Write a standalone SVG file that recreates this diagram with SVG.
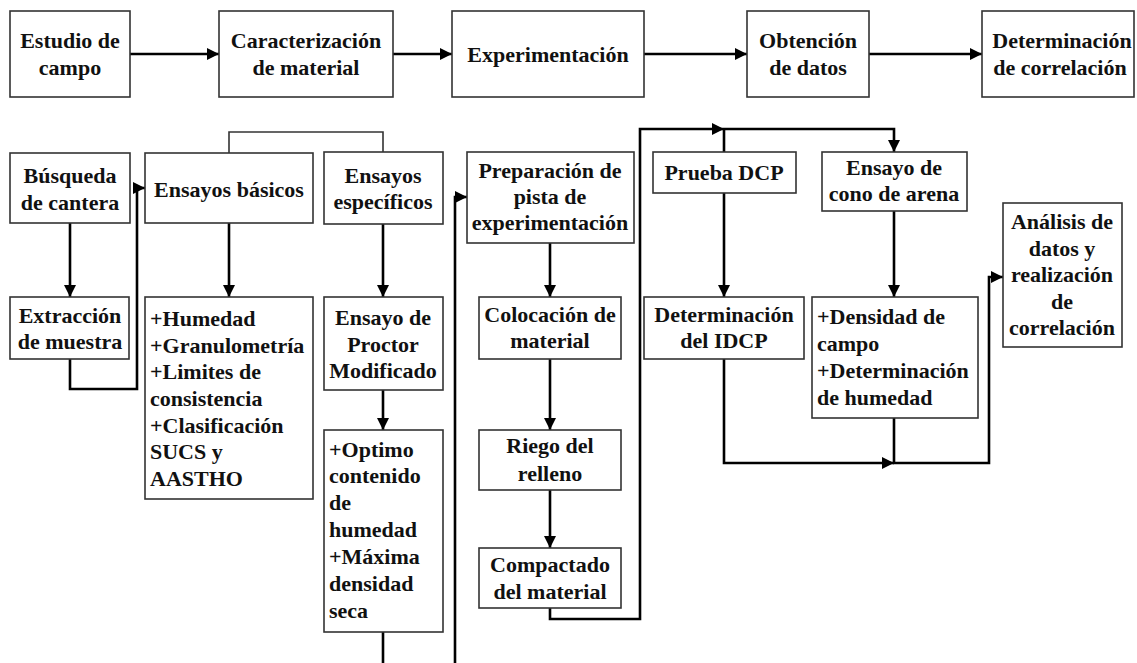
<svg xmlns="http://www.w3.org/2000/svg" width="1137" height="663" viewBox="0 0 1137 663">
<style>
.box{fill:#fff;stroke:#333;stroke-width:1.6}
.t{font-family:"Liberation Serif","Times New Roman",serif;font-weight:bold;font-size:22px;fill:#111}
.c{text-anchor:middle}
.con{fill:none;stroke:#000;stroke-width:2.6}
.thin{fill:none;stroke:#333;stroke-width:1.6}
</style>
<defs>
<marker id="ah" viewBox="0 0 12 12" refX="12" refY="6" markerWidth="12" markerHeight="12" markerUnits="userSpaceOnUse" orient="auto">
<path d="M0,0 L12,6 L0,12 z" fill="#000"/>
</marker>
</defs>
<rect width="1137" height="663" fill="#fff"/>
<g id="connectors">
<path class="con" d="M130,54 H219" marker-end="url(#ah)"/>
<path class="con" d="M393,54 H452" marker-end="url(#ah)"/>
<path class="con" d="M644,54 H747" marker-end="url(#ah)"/>
<path class="con" d="M869,54 H982" marker-end="url(#ah)"/>
<path class="thin" d="M229,153 V132 H383 V152"/>
<path class="con" d="M70,223 V297" marker-end="url(#ah)"/>
<path class="con" d="M229,223 V297" marker-end="url(#ah)"/>
<path class="con" d="M383,224 V297" marker-end="url(#ah)"/>
<path class="con" d="M70,359 V389 H137 V188 H145" marker-end="url(#ah)"/>
<path class="con" d="M383,390 V430" marker-end="url(#ah)"/>
<path class="con" d="M383,632 V663"/>
<path class="con" d="M455,663 V197 H467" marker-end="url(#ah)"/>
<path class="con" d="M550,243 V297" marker-end="url(#ah)"/>
<path class="con" d="M550,359 V430" marker-end="url(#ah)"/>
<path class="con" d="M550,490 V548" marker-end="url(#ah)"/>
<path class="con" d="M550,608 V619 H640 V129 H724" marker-end="url(#ah)"/>
<path class="con" d="M724,129 H894 V152" marker-end="url(#ah)"/>
<path class="con" d="M724,129 V152"/>
<path class="con" d="M724,193 V297" marker-end="url(#ah)"/>
<path class="con" d="M894,211 V297" marker-end="url(#ah)"/>
<path class="con" d="M724,359 V463 H894" marker-end="url(#ah)"/>
<path class="con" d="M894,418 V463 H989 V277 H1003" marker-end="url(#ah)"/>
</g>
<g id="estudio"><rect class="box" x="10" y="11" width="120" height="86"/><text class="t c" x="70" y="48">Estudio de</text><text class="t c" x="70" y="75">campo</text></g>
<g id="caracterizacion"><rect class="box" x="219" y="11" width="174" height="86"/><text class="t c" x="306" y="48">Caracterización</text><text class="t c" x="306" y="75">de material</text></g>
<g id="experimentacion"><rect class="box" x="452" y="11" width="192" height="86"/><text class="t c" x="548" y="62">Experimentación</text></g>
<g id="obtencion"><rect class="box" x="747" y="11" width="122" height="86"/><text class="t c" x="808" y="48">Obtención</text><text class="t c" x="808" y="75">de datos</text></g>
<g id="determinacion-correlacion"><rect class="box" x="982" y="11" width="152" height="86"/><text class="t c" x="1062" y="48">Determinación</text><text class="t c" x="1060" y="75">de correlación</text></g>
<g id="busqueda"><rect class="box" x="10" y="153" width="120" height="70"/><text class="t c" x="70" y="183">Búsqueda</text><text class="t c" x="70" y="210">de cantera</text></g>
<g id="ensayos-basicos"><rect class="box" x="145" y="153" width="168" height="70"/><text class="t c" x="229" y="197">Ensayos básicos</text></g>
<g id="ensayos-especificos"><rect class="box" x="324" y="152" width="119" height="72"/><text class="t c" x="383" y="183">Ensayos</text><text class="t c" x="383" y="209">específicos</text></g>
<g id="preparacion"><rect class="box" x="467" y="152" width="167" height="91"/><text class="t c" x="550" y="178">Preparación de</text><text class="t c" x="550" y="204">pista de</text><text class="t c" x="550" y="230">experimentación</text></g>
<g id="prueba-dcp"><rect class="box" x="653" y="152" width="143" height="41"/><text class="t c" x="724" y="180">Prueba DCP</text></g>
<g id="cono-arena"><rect class="box" x="822" y="152" width="145" height="59"/><text class="t c" x="894" y="175">Ensayo de</text><text class="t c" x="894" y="201">cono de arena</text></g>
<g id="analisis"><rect class="box" x="1003" y="203" width="119" height="144"/><text class="t c" x="1062" y="229">Análisis de</text><text class="t c" x="1062" y="256">datos y</text><text class="t c" x="1062" y="282">realización</text><text class="t c" x="1062" y="309">de</text><text class="t c" x="1062" y="335">correlación</text></g>
<g id="extraccion"><rect class="box" x="10" y="297" width="119" height="62"/><text class="t c" x="70" y="323">Extracción</text><text class="t c" x="70" y="349">de muestra</text></g>
<g id="ensayos-basicos-lista"><rect class="box" x="145" y="297" width="168" height="202"/>
<text class="t" x="150" y="326">+Humedad</text><text class="t" x="150" y="353">+Granulometría</text><text class="t" x="150" y="379">+Limites de</text><text class="t" x="150" y="406">consistencia</text><text class="t" x="150" y="433">+Clasificación</text><text class="t" x="150" y="459">SUCS y</text><text class="t" x="150" y="486">AASTHO</text></g>
<g id="proctor"><rect class="box" x="324" y="297" width="119" height="93"/><text class="t c" x="383" y="325">Ensayo de</text><text class="t c" x="383" y="352">Proctor</text><text class="t c" x="383" y="378">Modificado</text></g>
<g id="proctor-resultados"><rect class="box" x="324" y="430" width="119" height="202"/>
<text class="t" x="329" y="457">+Optimo</text><text class="t" x="329" y="483">contenido</text><text class="t" x="329" y="510">de</text><text class="t" x="329" y="537">humedad</text><text class="t" x="329" y="564">+Máxima</text><text class="t" x="329" y="591">densidad</text><text class="t" x="329" y="618">seca</text></g>
<g id="colocacion"><rect class="box" x="479" y="297" width="142" height="62"/><text class="t c" x="550" y="322">Colocación de</text><text class="t c" x="550" y="348">material</text></g>
<g id="riego"><rect class="box" x="479" y="430" width="142" height="60"/><text class="t c" x="550" y="453">Riego del</text><text class="t c" x="550" y="481">relleno</text></g>
<g id="compactado"><rect class="box" x="479" y="548" width="142" height="60"/><text class="t c" x="550" y="572">Compactado</text><text class="t c" x="550" y="599">del material</text></g>
<g id="determinacion-idcp"><rect class="box" x="644" y="297" width="160" height="62"/><text class="t c" x="724" y="322">Determinación</text><text class="t c" x="724" y="348">del IDCP</text></g>
<g id="densidad"><rect class="box" x="812" y="297" width="166" height="121"/>
<text class="t" x="817" y="324">+Densidad de</text><text class="t" x="817" y="351">campo</text><text class="t" x="817" y="378">+Determinación</text><text class="t" x="817" y="405">de humedad</text></g>
</svg>
